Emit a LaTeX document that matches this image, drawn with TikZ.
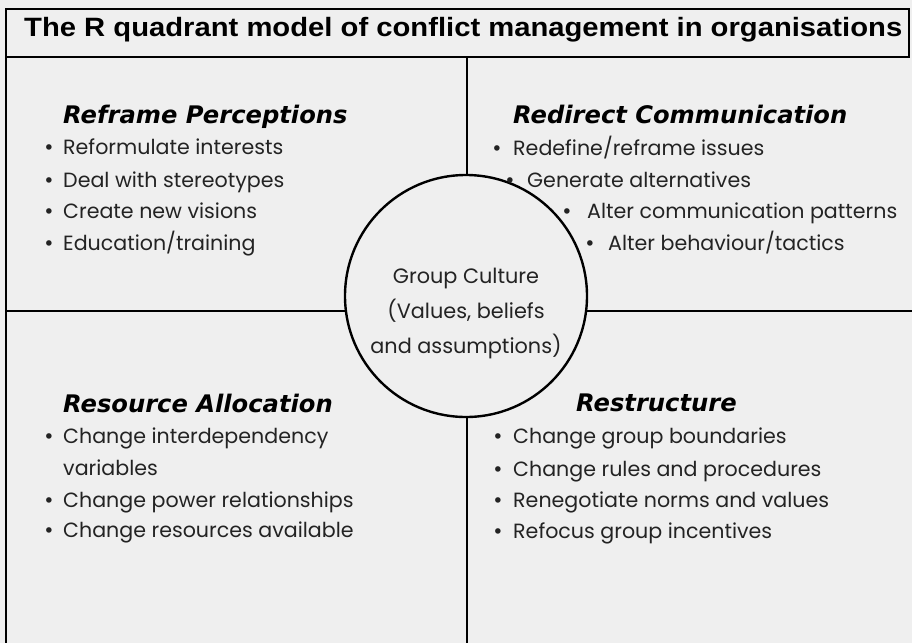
\documentclass[tikz,border=0pt]{standalone}
\usepackage{fontspec}
\usepackage{graphicx}
\newfontfamily\titlefont{Liberation Sans}
\newfontfamily\headfont{DejaVu Sans}
\newfontfamily\bodyfnt{Poppins}
\definecolor{bg}{RGB}{239,239,239}
\definecolor{ink}{RGB}{35,35,35}
\tikzset{
  rule/.style={line width=2.4pt, draw=black},
  heading/.style={anchor=base west, inner sep=0pt, font=\headfont\bfseries\itshape\fontsize{24.2}{28}\selectfont, text=black},
  item/.style={anchor=base west, inner sep=0pt, font=\bodyfnt\fontsize{20.6}{24}\selectfont, text=ink},
  dot/.style={anchor=base, inner sep=0pt, font=\headfont\fontsize{19}{23}\selectfont, text=ink},
  ctext/.style={anchor=base, inner sep=0pt, font=\bodyfnt\fontsize{20.8}{25}\selectfont, text=ink},
}
\begin{document}
\begin{tikzpicture}[x=1pt,y=-1pt]
\fill[bg] (0,0) rectangle (912,643);
\useasboundingbox (0,0) rectangle (912,643);
% frame
\coordinate (tl) at (6,9);
\coordinate (br) at (909,57);
\draw[rule] (tl) rectangle (br);
\coordinate (lt) at (6,57);
\coordinate (lb) at (6,643);
\draw[rule] (lt) -- (lb);
% dividers
\coordinate (vt) at (467,57);
\coordinate (vb) at (467,643);
\coordinate (hl) at (6,311);
\coordinate (hr) at (912,311);
\draw[rule] (vt) -- (vb);
\draw[rule] (hl) -- (hr);
% circle
\node[circle, minimum size=242pt, inner sep=0pt, fill=bg, draw=black, line width=2.4pt] (c) at (466,296) {};
% title
\node[anchor=base west, inner sep=0pt, font=\titlefont\bfseries\fontsize{26.5}{30}\selectfont] (title) at (24,36)
  {\resizebox{878pt}{\height}{The R quadrant model of conflict management in organisations}};
% circle text
\node[ctext] (c1) at (466,283) {Group Culture};
\node[ctext] (c2) at (466,318) {(Values, beliefs};
\node[ctext] (c3) at (466,353) {and assumptions)};
% top-left
\node[heading] (h1) at (63,123) {Reframe Perceptions};
\node[dot] (d11) at (49,154) {•};
\node[item] (i11) at (63,154) {Reformulate interests};
\node[dot] (d12) at (49,187) {•};
\node[item] (i12) at (63,187) {Deal with stereotypes};
\node[dot] (d13) at (49,218) {•};
\node[item] (i13) at (63,218) {Create new visions};
\node[dot] (d14) at (49,250) {•};
\node[item] (i14) at (63,250) {Education/training};
% top-right
\node[heading] (h2) at (513,123) {Redirect Communication};
\node[dot] (d21) at (497,155) {•};
\node[item] (i21) at (513,155) {Redefine/reframe issues};
\node[dot] (d22) at (510,187) {•};
\node[item] (i22) at (527,187) {Generate alternatives};
\node[dot] (d23) at (567,218) {•};
\node[item] (i23) at (587,218) {Alter communication patterns};
\node[dot] (d24) at (590,250) {•};
\node[item] (i24) at (608,250) {Alter behaviour/tactics};
% bottom-left
\node[heading] (h3) at (63,412) {Resource Allocation};
\node[dot] (d31) at (49,443) {•};
\node[item] (i31) at (63,443) {Change interdependency};
\node[item] (i32) at (63,475) {variables};
\node[dot] (d33) at (49,507) {•};
\node[item] (i33) at (63,507) {Change power relationships};
\node[dot] (d34) at (49,537) {•};
\node[item] (i34) at (63,537) {Change resources available};
% bottom-right
\node[heading] (h4) at (576,411) {Restructure};
\node[dot] (d41) at (498,443) {•};
\node[item] (i41) at (513,443) {Change group boundaries};
\node[dot] (d42) at (498,476) {•};
\node[item] (i42) at (513,476) {Change rules and procedures};
\node[dot] (d43) at (498,507) {•};
\node[item] (i43) at (513,507) {Renegotiate norms and values};
\node[dot] (d44) at (498,538) {•};
\node[item] (i44) at (513,538) {Refocus group incentives};
\end{tikzpicture}
\end{document}
